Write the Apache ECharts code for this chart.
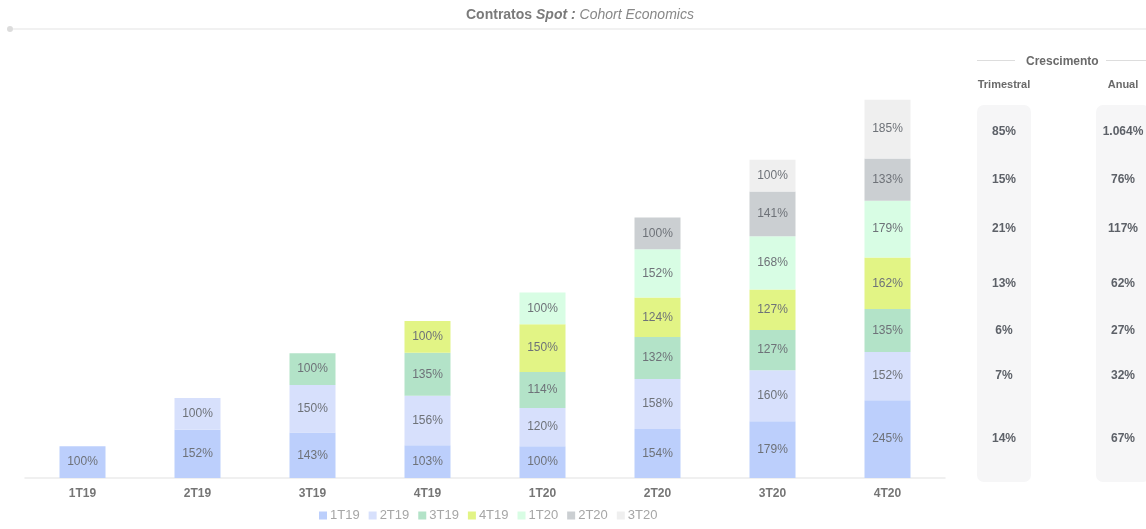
<!DOCTYPE html>
<html>
<head>
<meta charset="utf-8">
<script src="https://cdn.jsdelivr.net/npm/echarts@6/dist/echarts.min.js"></script>
<style>
  html, body { margin: 0; padding: 0; background: #fff; }
  #chart { width: 1146px; height: 529px; }
</style>
</head>
<body>
<div id="chart"></div>
<script>
// Quarters on the x axis
const quarters = ['1T19', '2T19', '3T19', '4T19', '1T20', '2T20', '3T20', '4T20'];
// Cohorts (one stacked segment each), with their colours
const cohorts = ['1T19', '2T19', '3T19', '4T19', '1T20', '2T20', '3T20'];
const cohortColors = ['#bccffc', '#d7e0fc', '#b3e3c8', '#e2f485', '#d8fde4', '#cbcfd2', '#efefef'];

// Revenue of each cohort per quarter, as % of its first quarter (null before the cohort starts)
const c1T19 = [100, 152, 143, 103, 100, 154, 179, 245];
const c2T19 = [null, 100, 150, 156, 120, 158, 160, 152];
const c3T19 = [null, null, 100, 135, 114, 132, 127, 135];
const c4T19 = [null, null, null, 100, 150, 124, 127, 162];
const c1T20 = [null, null, null, null, 100, 152, 168, 179];
const c2T20 = [null, null, null, null, null, 100, 141, 133];
const c3T20 = [null, null, null, null, null, null, 100, 185];
const cohortValues = [c1T19, c2T19, c3T19, c4T19, c1T20, c2T20, c3T20];

// Growth table (rows follow the cohorts, bottom to top)
const growthColumns = ['Trimestral', 'Anual'];
const growthQuarterly = ['14%', '7%', '6%', '13%', '21%', '15%', '85%'];
const growthAnnual = ['67%', '32%', '27%', '62%', '117%', '76%', '1.064%'];
const growthTexts = [growthQuarterly, growthAnnual];

const FONT = '"Liberation Sans", Arial, sans-serif';
const chart = echarts.init(document.getElementById('chart'), null, { renderer: 'canvas' });

// Shared vertical scale: main plot spans y 65..478 for 0..1300
const Y_MAX = 1300;
const MAIN_TOP = 65, MAIN_BOTTOM_PX = 478;
const pxPerUnit = (MAIN_BOTTOM_PX - MAIN_TOP) / Y_MAX;
const TABLE_TOP = 105, TABLE_BOTTOM_PX = 482;
const tableMin = -(TABLE_BOTTOM_PX - MAIN_BOTTOM_PX) / pxPerUnit;
const tableMax = (MAIN_BOTTOM_PX - TABLE_TOP) / pxPerUnit;

// Table columns: one narrow grid per column
const tableGrids = [
  { left: 977, width: 54 },
  { left: 1101, width: 44 }
];

const mainSeries = cohorts.map((name, i) => ({
  name: name,
  type: 'bar',
  stack: 'cohorts',
  xAxisIndex: 0,
  yAxisIndex: 0,
  barWidth: '40%',
  data: cohortValues[i],
  itemStyle: { color: cohortColors[i] },
  label: {
    show: true,
    position: 'inside',
    formatter: p => p.value == null ? '' : p.value + '%',
    color: '#6e7278',
    fontSize: 12,
    fontFamily: FONT
  }
}));

// Growth table: invisible segments sized like the last quarter's stack, carrying the growth texts
const tableSeries = [];
growthColumns.forEach((col, c) => {
  cohorts.forEach((name, i) => {
    const last = cohortValues[i][cohortValues[i].length - 1];
    tableSeries.push({
      name: col + '-' + name,
      type: 'bar',
      stack: 'growth-' + c,
      xAxisIndex: c + 1,
      yAxisIndex: c + 1,
      barWidth: 54,
      silent: true,
      showBackground: i === 0,
      backgroundStyle: { color: '#f6f6f7', borderRadius: 7 },
      data: [last],
      itemStyle: { color: 'rgba(0,0,0,0)' },
      label: {
        show: true,
        position: 'inside',
        formatter: () => growthTexts[c][i],
        color: '#5d6168',
        fontWeight: 'bold',
        fontSize: 12,
        fontFamily: FONT
      }
    });
  });
});

chart.setOption({
  backgroundColor: '#ffffff',
  animation: false,
  textStyle: { fontFamily: FONT },
  title: [{
    text: '{b|Contratos }{bi|Spot :}{i| Cohort Economics}',
    left: 461,
    top: 3,
    textStyle: {
      rich: {
        b: { fontSize: 14, fontWeight: 'bold', color: '#7a7a7a', fontFamily: FONT },
        bi: { fontSize: 14, fontWeight: 'bold', fontStyle: 'italic', color: '#7a7a7a', fontFamily: FONT },
        i: { fontSize: 14, fontWeight: 'normal', fontStyle: 'italic', color: '#888888', fontFamily: FONT }
      }
    }
  }, {
    text: 'Crescimento',
    left: 1021,
    top: 51,
    textStyle: { fontSize: 12, fontWeight: 'bold', color: '#6a6a6a', fontFamily: FONT }
  }],
  legend: {
    data: cohorts,
    bottom: 2,
    left: 314,
    icon: 'rect',
    itemWidth: 8,
    itemHeight: 8,
    itemGap: 9,
    textStyle: { color: '#a6a6a6', fontSize: 13, fontFamily: FONT, padding: [0, 0, 0, -2] }
  },
  grid: [
    { left: 25, width: 920, top: MAIN_TOP, bottom: 529 - MAIN_BOTTOM_PX }
  ].concat(tableGrids.map(g => ({
    left: g.left, width: g.width, top: TABLE_TOP, bottom: 529 - TABLE_BOTTOM_PX
  }))),
  xAxis: [{
    type: 'category',
    gridIndex: 0,
    data: quarters,
    axisLine: { lineStyle: { color: '#ececec', width: 1.5 } },
    axisTick: { show: false },
    axisLabel: { color: '#757575', fontWeight: 'bold', fontSize: 12, margin: 10, fontFamily: FONT }
  }].concat(growthColumns.map((col, c) => ({
    type: 'category',
    gridIndex: c + 1,
    position: 'top',
    data: [col],
    axisLine: { show: false },
    axisTick: { show: false },
    axisLabel: { color: '#6a6a6a', fontWeight: 'bold', fontSize: 11, margin: 15, interval: 0, fontFamily: FONT }
  }))),
  yAxis: [{
    type: 'value',
    gridIndex: 0,
    min: 0,
    max: Y_MAX,
    show: false
  }].concat(growthColumns.map((col, c) => ({
    type: 'value',
    gridIndex: c + 1,
    min: tableMin,
    max: tableMax,
    show: false
  }))),
  graphic: [
    { type: 'line', shape: { x1: 10, y1: 29, x2: 1146, y2: 29 }, style: { stroke: '#ececec', lineWidth: 1.5 } },
    { type: 'circle', shape: { cx: 10, cy: 29, r: 3 }, style: { fill: '#dcdcdc' } },
    { type: 'line', shape: { x1: 977, y1: 60.5, x2: 1015, y2: 60.5 }, style: { stroke: '#dddddd', lineWidth: 1 } },
    { type: 'line', shape: { x1: 1106, y1: 60.5, x2: 1146, y2: 60.5 }, style: { stroke: '#dddddd', lineWidth: 1 } }
  ],
  series: mainSeries.concat(tableSeries)
});
</script>
</body>
</html>
